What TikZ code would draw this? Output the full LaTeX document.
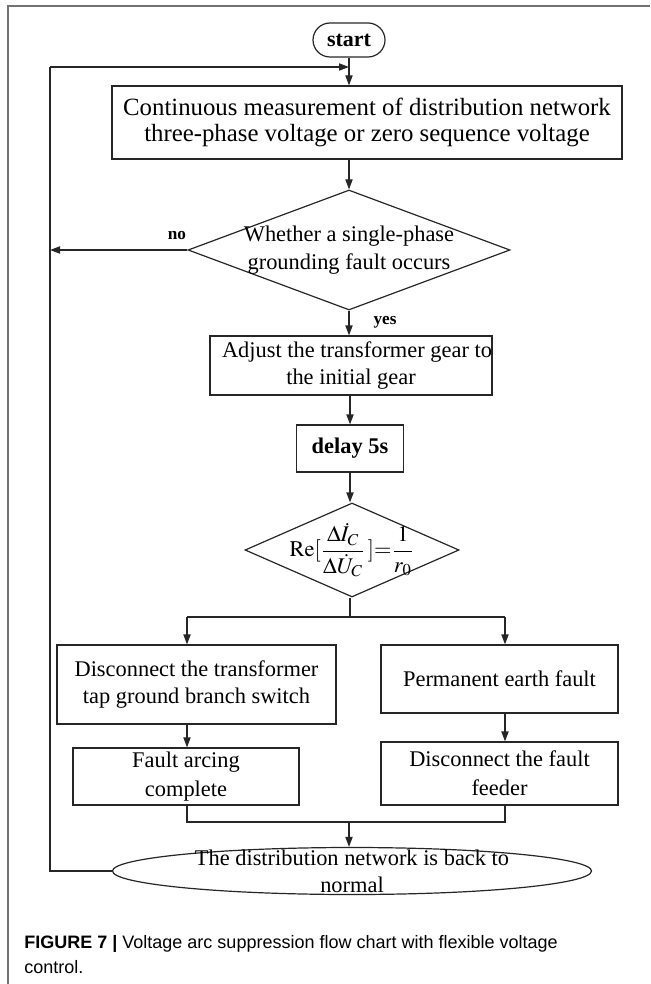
\documentclass[tikz,border=0pt]{standalone}
\usepackage{amsmath}
\usepackage{mathptmx}
\usepackage{fontspec}
\setmainfont{Liberation Serif}
\setsansfont{Liberation Sans}
\usetikzlibrary{arrows.meta,shapes.geometric,positioning}

\newcommand{\flowtext}{\fontsize{11.2}{13.5}\selectfont}
\newcommand{\wideflowtext}{\fontsize{12.4}{12.6}\selectfont}

\tikzset{
  flowline/.style={line width=0.6pt, draw=black!85},
  procbox/.style={rectangle, draw, flowline, inner sep=0pt, align=center, font=\flowtext},
  decide/.style={diamond, draw, flowline, inner sep=-14pt, align=center, font=\flowtext},
  branchlbl/.style={inner sep=0pt, font=\fontsize{8.6}{10}\selectfont\bfseries},
  arr/.style={flowline, -{Triangle[length=5pt,width=3.6pt]}}
}

\begin{document}
\begin{tikzpicture}[x=0.5pt, y=-0.5pt]
		\useasboundingbox (0,0) rectangle (650,984);
		\draw [draw=black!55, line width=0.7pt] (8,984) -- (8,6) -- (650,6);
		% main column
		\node [procbox, rounded corners=8.5pt, minimum width=36pt, minimum height=17pt, font=\fontsize{11}{13}\selectfont\bfseries] (start) at (349,40) {start};
		\node [procbox, minimum width=255pt, minimum height=36.5pt, font=\wideflowtext] (measure) at (367,122.5) {Continuous measurement of distribution network\\three-phase voltage or zero sequence voltage};
		\node [decide, aspect=2.68, minimum width=161pt, minimum height=60pt, font=\fontsize{11.2}{14}\selectfont] (fault) at (349,250) {Whether a single-phase\\grounding fault occurs};
		\node [procbox, minimum width=140.5pt, minimum height=29.5pt] (gear) at (351,365.5) {\hspace*{6pt}Adjust the transformer gear to\\the initial gear};
		\node [procbox, minimum width=53.5pt, minimum height=23.5pt, font=\flowtext\bfseries] (delay) at (350,448.5) {delay 5s};
		\node [decide, aspect=2.28, minimum width=107pt, minimum height=47pt] (ratio) at (352,550) {\raisebox{-2pt}{$\mathrm{Re}[\dfrac{\Delta\dot{I}_C}{\Delta\dot{U}_C}\,]{=}\dfrac{\mathrm{1}}{r_0}$}};
		% two branches
		\node [procbox, minimum width=139.5pt, minimum height=39.5pt] (switch) at (196.5,684.5) {Disconnect the transformer\\tap ground branch switch};
		\node [procbox, minimum width=118.5pt, minimum height=34pt] (perm) at (499.5,679) {Permanent earth fault};
		\node [procbox, minimum width=113pt, minimum height=28.5pt, font=\fontsize{11.2}{14.5}\selectfont] (arcing) at (186,776.5) {Fault arcing\\complete};
		\node [procbox, minimum width=118.5pt, minimum height=31.5pt, font=\fontsize{11.2}{14.5}\selectfont] (feeder) at (499.5,773.5) {Disconnect the fault\\feeder};
		\node [ellipse, draw, flowline, inner sep=-6pt, minimum width=239.5pt, minimum height=23.5pt, align=center, font=\flowtext] (normal) at (352,871) {The distribution network is back to\\normal};
		% labels
		\node [branchlbl] (nolbl) at (177,236) {no};
		\node [branchlbl] (yeslbl) at (385,322) {yes};
		% helper points
		\coordinate (loopTop) at (50,67);
		\coordinate (loopBot) at (50,871);
		\coordinate (splitL) at (187,617);
		\coordinate (splitR) at (505,617);
		\coordinate (joinL) at (187,822);
		\coordinate (joinR) at (505,822);
		% connectors
		\draw [arr] (start.south) -- (start.south |- measure.north);
		\draw [arr] (fault.north |- measure.south) -- (fault.north);
		\draw [arr] (fault.south) -- (gear.north -| fault.south);
		\draw [arr] (gear.south -| delay.north) -- (delay.north);
		\draw [arr] (delay.south) -- (delay.south |- ratio.north);
		\draw [arr] (fault.west) -- (fault.west -| loopTop);
		\draw [flowline] (normal.west) -- (loopBot) -- (loopTop);
		\draw [arr] (loopTop) -- (loopTop -| start.south);
		\draw [flowline] (ratio.south -| delay.south) -- (splitL -| delay.south);
		\draw [flowline] (splitL) -- (splitR);
		\draw [arr] (splitL) -- (splitL |- switch.north);
		\draw [arr] (splitR) -- (splitR |- perm.north);
		\draw [arr] (switch.south -| splitL) -- (arcing.north -| splitL);
		\draw [arr] (perm.south -| splitR) -- (feeder.north -| splitR);
		\draw [flowline] (arcing.south -| joinL) -- (joinL) -- (joinR) -- (feeder.south -| joinR);
		\draw [arr] (joinL -| start.south) -- (start.south |- normal.north);
		% caption
		\node [anchor=west, inner sep=0pt, align=left, font=\sffamily\fontsize{9}{12.5}\selectfont] (caption) at (24,955) {\textbf{FIGURE 7 |} Voltage arc suppression flow chart with flexible voltage\\control.};
\end{tikzpicture}
\end{document}
